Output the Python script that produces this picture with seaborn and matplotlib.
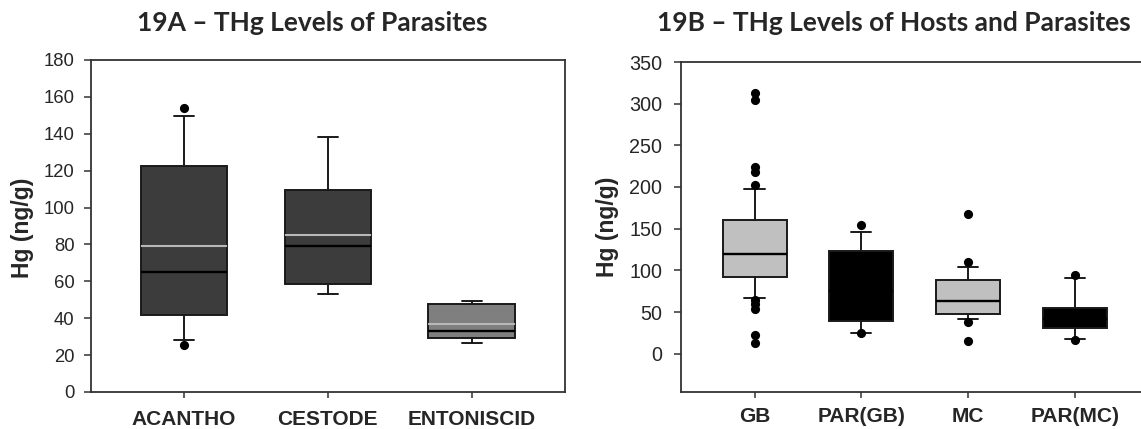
import matplotlib
matplotlib.use("Agg")
import matplotlib.pyplot as plt
import pandas as pd
import seaborn as sns

# ---- 19A: parasites (box = 25th-75th pct, whiskers = 10th-90th pct) ----
para_groups = ["ACANTHO", "CESTODE", "ENTONISCID"]
para_p10 = [28.3, 53.3, 26.8]
para_q1 = [41.7, 58.5, 29.2]
para_median = [65.3, 79.0, 33.2]
para_mean = [79.2, 85.2, 37.0]
para_q3 = [122.7, 109.7, 47.5]
para_p90 = [149.9, 138.5, 49.5]
acantho_outliers = [154.0, 25.6]
cestode_outliers = []
entoniscid_outliers = []

# ---- 19B: hosts and parasites ----
host_groups = ["GB", "PAR(GB)", "MC", "PAR(MC)"]
host_p10 = [67.2, 25.3, 42.1, 17.2]
host_q1 = [91.8, 38.9, 48.1, 30.5]
host_median = [119.1, 75.0, 63.4, 42.0]
host_q3 = [160.8, 123.5, 88.6, 55.3]
host_p90 = [197.3, 145.5, 104.2, 91.0]
gb_outliers = [313.0, 304.0, 223.5, 218.0, 202.5, 64.0, 59.0, 54.0, 22.0, 13.0]
par_gb_outliers = [154.4, 24.9]
mc_outliers = [167.6, 109.5, 38.1, 14.8]
par_mc_outliers = [94.6, 16.0]

para_colors = ["#3c3c3c", "#3c3c3c", "#7f7f7f"]
host_colors = ["#c0c0c0", "#000000", "#c0c0c0", "#000000"]

sns.set_theme(style="ticks")
plt.rcParams["font.family"] = ["Liberation Sans", "DejaVu Sans"]

W, H = 1141, 429
fig = plt.figure(figsize=(W / 100, H / 100), dpi=100, facecolor="white")


def make_stats(groups, p10, q1, med, q3, p90, mean=None):
    stats = []
    for i, g in enumerate(groups):
        d = dict(label=g, whislo=p10[i], q1=q1[i], med=med[i], q3=q3[i],
                 whishi=p90[i], fliers=[])
        if mean is not None:
            d["mean"] = mean[i]
        stats.append(d)
    return stats


def outlier_frame(groups, lists):
    rows = [(g, v) for g, vals in zip(groups, lists) for v in vals]
    return pd.DataFrame(rows, columns=["group", "value"])


def draw_panel(ax, groups, stats, colors, outliers, capw, show_mean,
               ylim, yticks, tick_fs, ytick_pad, xtick_pad, xlim):
    df = outlier_frame(groups, outliers)
    sns.stripplot(data=df, x="group", y="value", order=groups, jitter=False,
                  color="black", size=6.6, linewidth=0, ax=ax, zorder=6)
    bp = ax.bxp(stats, positions=list(range(len(groups))), widths=0.6,
                capwidths=capw, patch_artist=True, showfliers=False,
                showmeans=show_mean, meanline=True, manage_ticks=False,
                boxprops=dict(edgecolor="#1a1a1a", linewidth=1.4),
                whiskerprops=dict(color="#1a1a1a", linewidth=1.4),
                capprops=dict(color="#1a1a1a", linewidth=1.4),
                medianprops=dict(color="#000000", linewidth=1.7),
                meanprops=dict(color="#b8b8b8", linestyle="-", linewidth=1.5))
    for patch, c in zip(bp["boxes"], colors):
        patch.set_facecolor(c)
    ax.set_xlim(*xlim)
    ax.set_ylim(*ylim)
    ax.set_yticks(yticks)
    ax.set_xticks(range(len(groups)))
    ax.set_xticklabels(groups, fontsize=15, fontweight="bold",
                       family=["Liberation Sans", "DejaVu Sans"])
    ax.set_xlabel("")
    ax.set_ylabel("")
    ax.tick_params(axis="y", direction="out", length=5, width=1.1,
                   labelsize=tick_fs, pad=ytick_pad, color="#333333")
    ax.tick_params(axis="x", direction="out", length=4, width=1.1,
                   pad=xtick_pad, color="#333333")
    for lbl in ax.get_yticklabels():
        lbl.set_family(["Liberation Sans", "DejaVu Sans"])
    for s in ax.spines.values():
        s.set_color("#333333")
        s.set_linewidth(1.3)
    ax.set_facecolor("white")


# Panel A axes
axA = fig.add_axes([90.7 / W, (H - 392) / H, (565 - 90.7) / W, 332 / H])
draw_panel(axA, para_groups,
           make_stats(para_groups, para_p10, para_q1, para_median, para_q3,
                      para_p90, para_mean),
           para_colors, [acantho_outliers, cestode_outliers, entoniscid_outliers],
           0.14, True, (0, 180), range(0, 181, 20), 13.3, 6.5, 9.0,
           (-0.65, 2.65))

# Panel B axes (right frame runs past the figure edge)
axB = fig.add_axes([681 / W, (H - 392) / H, 4.38 * 106.7 / W, 330 / H])
draw_panel(axB, host_groups,
           make_stats(host_groups, host_p10, host_q1, host_median, host_q3,
                      host_p90),
           host_colors, [gb_outliers, par_gb_outliers, mc_outliers, par_mc_outliers],
           0.19, False, (-46, 350), range(0, 351, 50), 14.2, 8.5, 7.0,
           (-0.69, 3.69))

# Axis labels
fig.text(23 / W, 1 - 228 / H, "Hg (ng/g)", rotation=90, ha="center", va="center",
         fontsize=16.5, fontweight="bold", family=["Liberation Sans", "DejaVu Sans"])
fig.text(607 / W, 1 - 227 / H, "Hg (ng/g)", rotation=90, ha="center", va="center",
         fontsize=16.5, fontweight="bold", family=["Liberation Sans", "DejaVu Sans"])

# Panel titles
fig.text(312.5 / W, 1 - 23 / H, "19A \u2013 THg Levels of Parasites",
         ha="center", va="center", fontsize=19, fontweight="bold",
         family=["Lato", "DejaVu Sans"])
fig.text(894 / W, 1 - 23 / H, "19B \u2013 THg Levels of Hosts and Parasites",
         ha="center", va="center", fontsize=19, fontweight="bold",
         family=["Lato", "DejaVu Sans"])

fig.savefig("out.png", dpi=100, facecolor="white")
